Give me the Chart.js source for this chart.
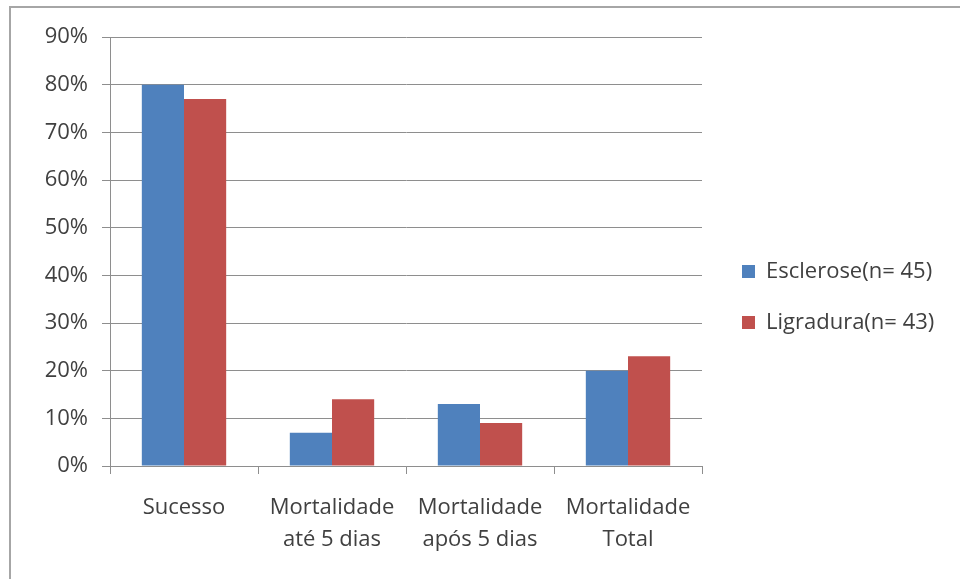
<!DOCTYPE html>
<html>
<head>
<meta charset="utf-8">
<script src="https://cdn.jsdelivr.net/npm/chart.js@4"></script>
<style>
  html, body { margin: 0; padding: 0; background: #fff; }
  #wrap { position: relative; width: 960px; height: 579px; overflow: hidden; }
  #frame { position: absolute; left: 9px; top: 6px; right: -4px; bottom: -4px;
           border-left: 2px solid #a6a6a6; border-top: 2px solid #a6a6a6; }
  canvas { position: absolute; left: 0; top: 0; }
</style>
</head>
<body>
<div id="wrap">
  <div id="frame"></div>
  <canvas id="c" width="960" height="579"></canvas>
</div>
<script>
// Categories (multi-line labels) and the two series, in percent
const categories = [
  ['Sucesso'],
  ['Mortalidade', 'até 5 dias'],
  ['Mortalidade', 'após 5 dias'],
  ['Mortalidade', 'Total']
];
const esclerose = [80, 7, 13, 20];
const ligradura = [77, 14, 9, 23];
const seriesNames = ['Esclerose(n= 45)', 'Ligradura(n= 43)'];
const yTicks = [0, 10, 20, 30, 40, 50, 60, 70, 80, 90];

const FONT = '"Open Sans", "Noto Sans", sans-serif';
const TEXT = '#404040';
const GRID = '#8e8e8e';

// Fixed legend column on the right, nudged right and raised above the canvas middle
const legendPlacement = {
  id: 'legendPlacement',
  beforeInit(chart) {
    const orig = chart.legend.fit;
    chart.legend.fit = function () {
      orig.call(this);
      this.width = 258;
    };
  },
  afterLayout(chart) {
    const lg = chart.legend;
    lg.top = 15;
    lg.left += 11;
    lg.right += 11;
  }
};

new Chart(document.getElementById('c'), {
  type: 'bar',
  data: {
    labels: categories,
    datasets: [
      { label: seriesNames[0], data: esclerose, backgroundColor: '#4F81BD', borderWidth: 0 },
      { label: seriesNames[1], data: ligradura, backgroundColor: '#C0504D', borderWidth: 0 }
    ]
  },
  options: {
    responsive: false,
    animation: false,
    devicePixelRatio: 1,
    layout: { padding: { left: 0, right: 0, top: 37, bottom: 0 } },
    datasets: { bar: { categoryPercentage: 0.57, barPercentage: 1.0 } },
    scales: {
      x: {
        grid: { drawOnChartArea: false, drawTicks: true, tickLength: 8, color: GRID, offset: true },
        border: { color: GRID, width: 1 },
        ticks: { color: TEXT, font: { family: FONT, size: 22, lineHeight: 32 / 22 }, padding: 18, maxRotation: 0, autoSkip: false },
        afterFit(scale) { scale.height = 113; }
      },
      y: {
        min: 0, max: 90,
        afterBuildTicks(scale) { scale.ticks = yTicks.map(v => ({ value: v })); },
        grid: { color: GRID, tickLength: 8, drawTicks: true },
        border: { color: GRID, width: 1 },
        ticks: { color: TEXT, font: { family: FONT, size: 22 }, padding: 14, callback: v => v + '%' },
        afterFit(scale) { scale.width = 110; }
      }
    },
    plugins: {
      legend: {
        position: 'right',
        align: 'center',
        labels: { color: TEXT, font: { family: FONT, size: 22 }, boxWidth: 13, boxHeight: 13, padding: 29 }
      },
      tooltip: { enabled: false }
    }
  },
  plugins: [legendPlacement]
});
</script>
</body>
</html>
